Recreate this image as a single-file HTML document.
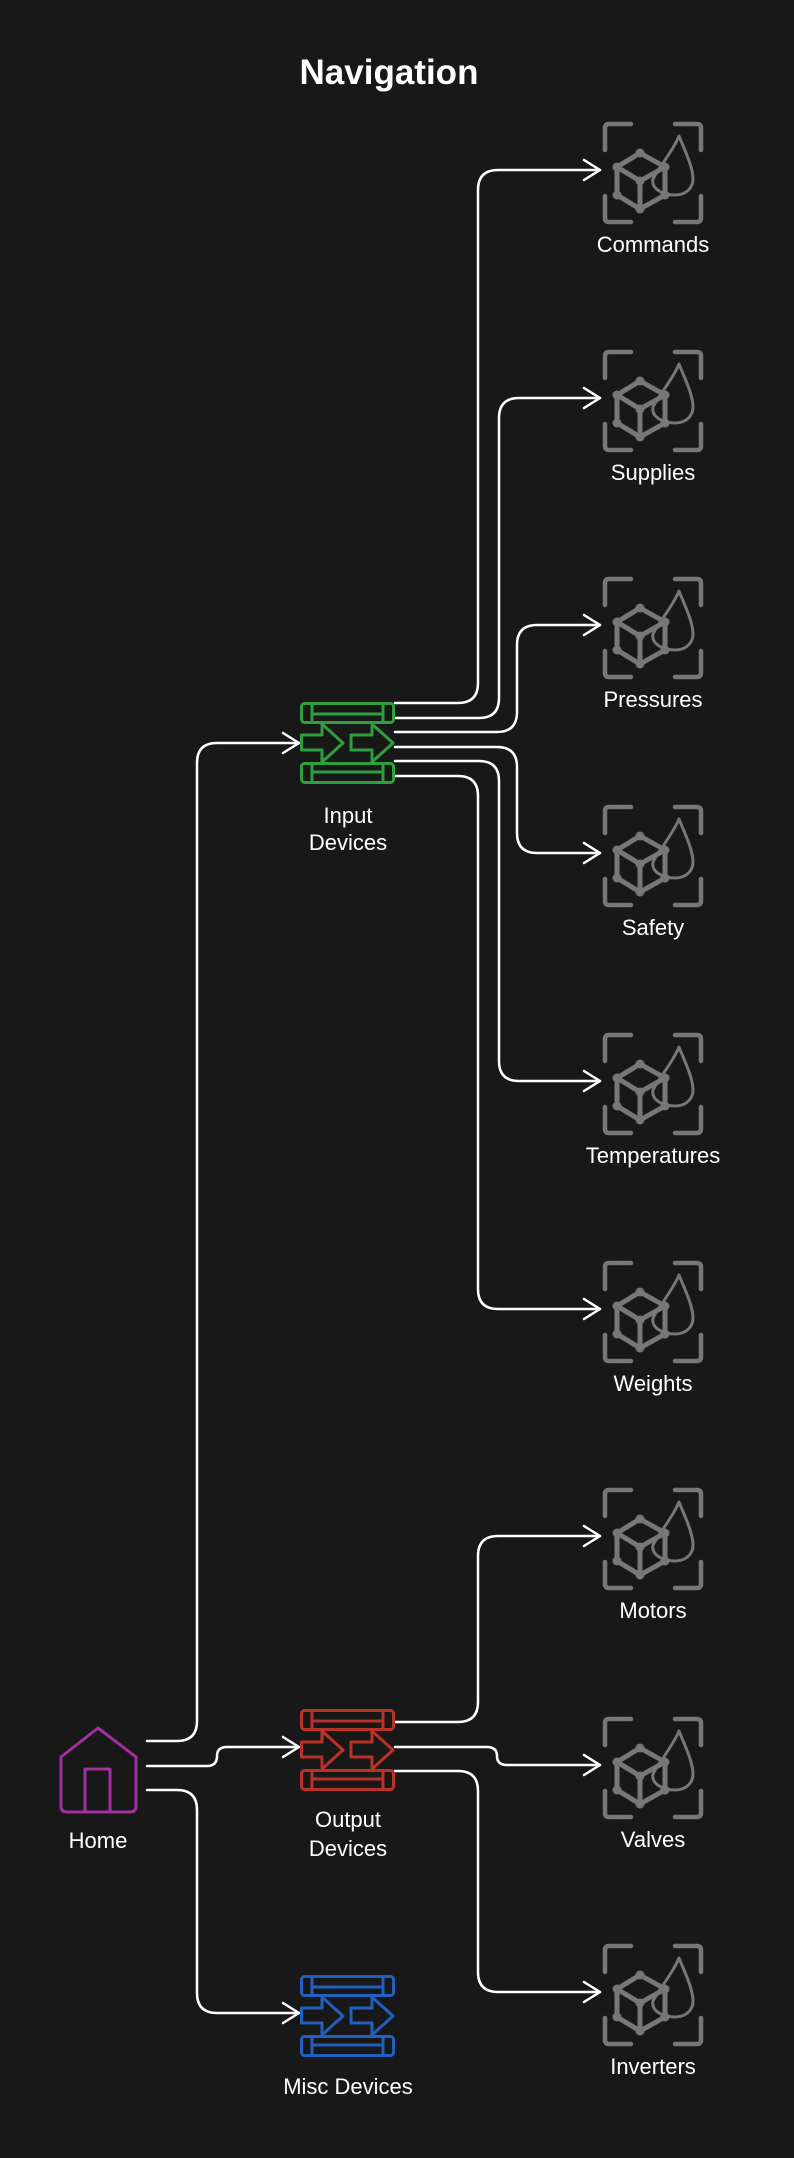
<!DOCTYPE html>
<html><head><meta charset="utf-8"><style>
html,body{margin:0;padding:0;background:#181818;}
svg{display:block;}
text{font-family:"Liberation Sans",sans-serif;fill:#fff;}
</style></head><body>
<svg width="794" height="2158" viewBox="0 0 794 2158" xmlns="http://www.w3.org/2000/svg">
<defs>
<g id="cube" fill="none" stroke="#777" stroke-width="4.5" stroke-linecap="round" stroke-linejoin="round">
  <path d="M2,27 V5 Q2,1 6,1 H28"/>
  <path d="M72,1 H94 Q98,1 98,5 V27"/>
  <path d="M2,73 V95 Q2,99 6,99 H28"/>
  <path d="M72,99 H94 Q98,99 98,95 V73"/>
  <path d="M76,13 C70,28 56,44 50,56 C48,66 60,72 72,72 C84,72 90,64 90,56 C90,44 82,28 76,13 Z" stroke-width="3"/>
  <path d="M37,30 L62,44 L62,72 L37,86 L14,72 L14,44 Z" stroke-width="5"/>
  <path d="M14,44 L37,58 L62,44 M37,58 V86" stroke-width="5"/>
  <g fill="#777" stroke="none">
    <circle cx="37" cy="30" r="4.5"/><circle cx="62" cy="44" r="4.5"/><circle cx="62" cy="72" r="4.5"/>
    <circle cx="37" cy="86" r="4.5"/><circle cx="14" cy="72" r="4.5"/><circle cx="14" cy="44" r="4.5"/><circle cx="37" cy="58" r="4.5"/>
  </g>
</g>
<g id="dev" fill="none" stroke-width="3" stroke-linejoin="round">
  <rect x="1.5" y="1.5" width="92" height="19" rx="3"/>
  <path d="M12,1.5 V20.5 M83,1.5 V20.5 M12,12 H83"/>
  <rect x="1.5" y="61.5" width="92" height="19" rx="3"/>
  <path d="M12,61.5 V80.5 M83,61.5 V80.5 M12,70 H83"/>
  <path d="M1.5,33 H22 V22 L43,41 L22,60 V48 H1.5 Z"/>
  <path d="M51,33 H72 V22 L93,41 L72,60 V48 H51 Z"/>
</g>
</defs>

<text x="389" y="84" font-size="35" font-weight="bold" text-anchor="middle">Navigation</text>

<g fill="none" stroke="#fff" stroke-width="2.5" stroke-linecap="round" stroke-linejoin="round">
  <path d="M395,703 H458 Q478,703 478,683 V190 Q478,170 498,170 H600"/>
  <path d="M395,718 H479 Q499,718 499,698 V418 Q499,398 519,398 H600"/>
  <path d="M395,732 H497 Q517,732 517,712 V645 Q517,625 537,625 H600"/>
  <path d="M395,747 H497 Q517,747 517,767 V833 Q517,853 537,853 H600"/>
  <path d="M395,761 H479 Q499,761 499,781 V1061 Q499,1081 519,1081 H600"/>
  <path d="M395,776 H458 Q478,776 478,796 V1289 Q478,1309 498,1309 H600"/>
  <path d="M395,1722 H458 Q478,1722 478,1702 V1556 Q478,1536 498,1536 H600"/>
  <path d="M395,1747 H487 Q497,1747 497,1756 Q497,1765 507,1765 H600"/>
  <path d="M395,1771 H458 Q478,1771 478,1791 V1972 Q478,1992 498,1992 H600"/>
  <path d="M147,1741 H177 Q197,1741 197,1721 V763 Q197,743 217,743 H299"/>
  <path d="M147,1766 H207 Q217,1766 217,1756 Q217,1747 227,1747 H299"/>
  <path d="M147,1790 H177 Q197,1790 197,1810 V1993 Q197,2013 217,2013 H299"/>
  <path d="M584,160 L600,170 L584,180"/>
  <path d="M584,388 L600,398 L584,408"/>
  <path d="M584,615 L600,625 L584,635"/>
  <path d="M584,843 L600,853 L584,863"/>
  <path d="M584,1071 L600,1081 L584,1091"/>
  <path d="M584,1299 L600,1309 L584,1319"/>
  <path d="M584,1526 L600,1536 L584,1546"/>
  <path d="M584,1755 L600,1765 L584,1775"/>
  <path d="M584,1982 L600,1992 L584,2002"/>
  <path d="M283,733 L299,743 L283,753"/>
  <path d="M283,1737 L299,1747 L283,1757"/>
  <path d="M283,2003 L299,2013 L283,2023"/>
</g>

<use href="#cube" x="603" y="123"/>
<use href="#cube" x="603" y="351"/>
<use href="#cube" x="603" y="578"/>
<use href="#cube" x="603" y="806"/>
<use href="#cube" x="603" y="1034"/>
<use href="#cube" x="603" y="1262"/>
<use href="#cube" x="603" y="1489"/>
<use href="#cube" x="603" y="1718"/>
<use href="#cube" x="603" y="1945"/>

<g font-size="22" text-anchor="middle">
  <text x="653" y="252">Commands</text>
  <text x="653" y="480">Supplies</text>
  <text x="653" y="707">Pressures</text>
  <text x="653" y="935">Safety</text>
  <text x="653" y="1163">Temperatures</text>
  <text x="653" y="1391">Weights</text>
  <text x="653" y="1618">Motors</text>
  <text x="653" y="1847">Valves</text>
  <text x="653" y="2074">Inverters</text>
  <text x="348" y="823">Input</text>
  <text x="348" y="850">Devices</text>
  <text x="348" y="1827">Output</text>
  <text x="348" y="1856">Devices</text>
  <text x="348" y="2094">Misc Devices</text>
  <text x="98" y="1848">Home</text>
</g>

<use href="#dev" x="300" y="702" stroke="#2e9e3e"/>
<use href="#dev" x="300" y="1709" stroke="#b83228"/>
<use href="#dev" x="300" y="1975" stroke="#2060c0"/>

<g fill="none" stroke="#a030a0" stroke-width="3" stroke-linejoin="round">
  <path d="M98,1728 L136,1757 V1806 Q136,1812 130,1812 H67 Q61,1812 61,1806 V1757 Z"/>
  <path d="M85,1812 V1769 H110 V1812"/>
</g>
</svg>
</body></html>
